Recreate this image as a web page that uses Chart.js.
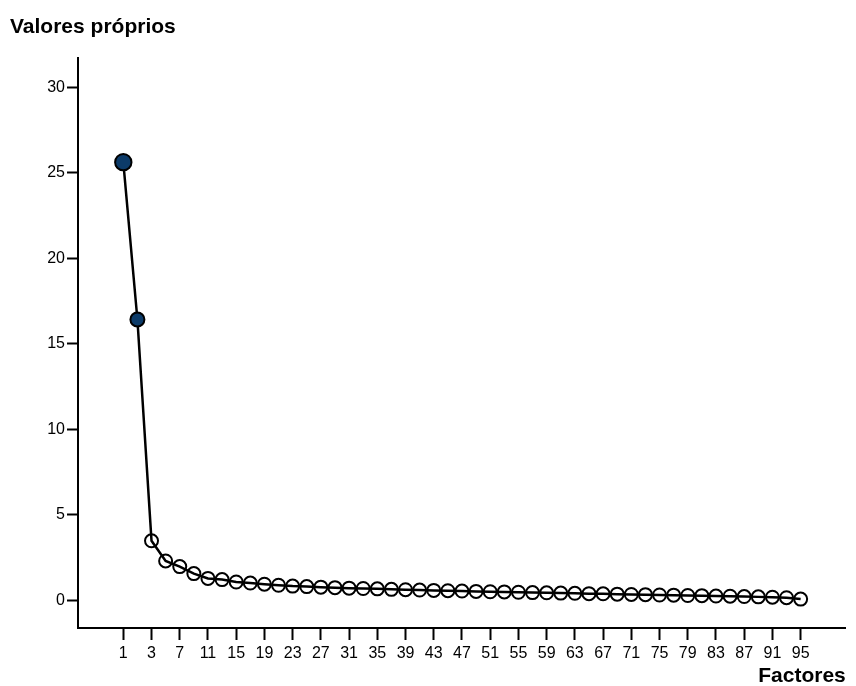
<!DOCTYPE html>
<html>
<head>
<meta charset="utf-8">
<script src="https://cdn.jsdelivr.net/npm/chart.js@4/dist/chart.umd.min.js"></script>
<style>
body{margin:0;background:#fff;}
#wrap{width:856px;height:686px;}
</style>
</head>
<body>
<div id="wrap"><canvas id="chart" width="856" height="686"></canvas></div>
<script>

/* DATA */

let factors = [1,2,3,5,7,9,11,13,15,17,19,21,23,25,27,29,31,33,35,37,39,41,43,45,47,
49,51,53,55,57,59,61,63,65,67,69,71,73,75,77,79,81,83,85,87,89,91,93,95];

let eigenvalues = [25.62,16.42,3.48,2.30,1.97,1.56,1.28,1.21,1.07,1.01,0.94,0.88,0.83,
0.80,0.77,0.74,0.71,0.69,0.67,0.64,0.62,0.60,0.58,0.56,0.54,0.52,0.50,0.49,0.47,0.45,
0.44,0.42,0.41,0.39,0.38,0.36,0.34,0.33,0.31,0.30,0.28,0.27,0.25,0.24,0.22,0.20,0.18,
0.15,0.07];

let yTicks = [0,5,10,15,20,25,30];

let extracted = 2;   // first factors drawn filled

let yTitle = "Valores próprios";
let xTitle = "Factores";


/* POINTS + TICK POSITIONS */

let points = eigenvalues.map((v,i)=>({x:i,y:v}));
let xTickIdx = factors.map((f,i)=>i).filter(i=>i%2===0);

let navy = "#0c3b69";
let font = "'Liberation Sans', Arial, sans-serif";


/* top-left label (y axis name) */

let topLabel = {
id:"topLabel",
afterDraw(chart){
let ctx = chart.ctx;
ctx.save();
ctx.font = "bold 21px " + font;
ctx.fillStyle = "#000";
ctx.textBaseline = "alphabetic";
ctx.fillText(yTitle, 10, 33);
ctx.restore();
}
};


let ctx = document.getElementById("chart").getContext("2d");

new Chart(ctx,{

type:"line",

data:{
datasets:[{
data:points,
borderColor:"#000",
borderWidth:2.5,
tension:0,
pointRadius:(c)=> c.dataIndex===0 ? 8.2 : (c.dataIndex<extracted ? 7 : 6.5),
pointBorderWidth:2,
pointBorderColor:"#000",
pointBackgroundColor:(c)=> c.dataIndex<extracted ? navy : "rgba(0,0,0,0)"
}]
},

options:{
responsive:false,
animation:false,
layout:{padding:{top:58,right:2,bottom:0,left:0}},
plugins:{
legend:{display:false},
tooltip:{enabled:false}
},
scales:{
x:{
type:"linear",
min:-3.21,
max:51.2,
afterBuildTicks:(s)=>{ s.ticks = xTickIdx.map(v=>({value:v})); },
afterFit:(s)=>{ s.height = 58; },
grid:{drawOnChartArea:false,tickLength:12,tickWidth:2,tickColor:"#000"},
border:{display:true,color:"#000",width:2},
ticks:{
color:"#000",
padding:4,
maxRotation:0,
autoSkip:false,
font:{family:font,size:16},
callback:(v)=>factors[v]
},
title:{
display:true,
text:xTitle,
align:"end",
color:"#000",
padding:{top:0,bottom:0},
font:{family:font,size:21,weight:"bold",lineHeight:0.9}
}
},
y:{
min:-1.62,
max:31.71,
afterBuildTicks:(s)=>{ s.ticks = yTicks.map(v=>({value:v})); },
afterFit:(s)=>{ s.width = 78; },
grid:{drawOnChartArea:false,tickLength:11,tickWidth:2,tickColor:"#000"},
border:{display:true,color:"#000",width:2},
ticks:{
color:"#000",
padding:2,
font:{family:font,size:16}
}
}
}
},

plugins:[topLabel]

});

</script>
</body>
</html>
